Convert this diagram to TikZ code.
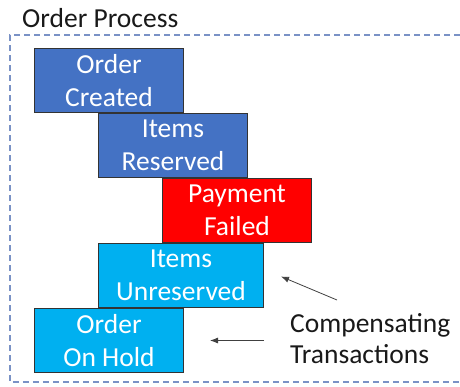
\documentclass[tikz,border=0pt]{standalone}
\usepackage{fontspec}
\setmainfont{Carlito}
\usepackage{xcolor}
\usetikzlibrary{positioning,arrows.meta,calc}
\definecolor{fwdblue}{HTML}{4472C4}
\definecolor{failred}{HTML}{FF0000}
\definecolor{compblue}{HTML}{00B0F0}
\definecolor{frameblue}{HTML}{7A92C6}
\definecolor{inkgray}{HTML}{404040}

\begin{document}
\begin{tikzpicture}[x=1pt,y=-1pt,>={Latex[length=8pt,width=6pt]},
  txn/.style={draw=black!80,line width=1pt,minimum width=149pt,minimum height=64pt,
              inner sep=0pt,anchor=north west,align=center,text=white,
              font=\fontsize{27.5}{32.5}\selectfont},
  fwd/.style={txn,fill=fwdblue},
  fail/.style={txn,fill=failred},
  undo/.style={txn,fill=compblue}]
\useasboundingbox (0,0) rectangle (460,386);
% frame of the process, open on the right
\draw[frameblue,line width=1.2pt,dash pattern=on 6pt off 4pt]
  (470,35) -| (10,382) -- (470,382);
\node[anchor=base west,inner sep=0pt,text=black!90,font=\fontsize{27.5}{32}\selectfont]
  (title) at (22,27) {Order Process};
% the steps, each one starting where the last one ends
\node[fwd] (ordcr) at (34,48) {Order\\Created};
\node[fwd,xshift=64pt] (itres) at (ordcr.south west) {Items\\Reserved};
\node[fail,xshift=64pt] (payf) at (itres.south west) {Payment\\Failed};
\node[undo,xshift=-64pt,minimum width=165pt] (itunr) at (payf.south west) {Items\\Unreserved};
\node[undo,xshift=-64pt] (hold) at (itunr.south west) {Order\\On Hold};
% label of the compensating ones
\node[anchor=north west,inner sep=0pt,align=left,text=black!90,
      font=\fontsize{27.5}{31}\selectfont] (comp) at (290,313) {Compensating\\Transactions};
\draw[->,inkgray,line width=0.8pt] ($(comp.north west)+(47,-13)$) -- ($(itunr.east)+(17,1)$);
\draw[->,inkgray,line width=0.8pt] ($(hold.east)+(80,0)$) -- ($(hold.east)+(26,0)$);
\end{tikzpicture}
\end{document}
